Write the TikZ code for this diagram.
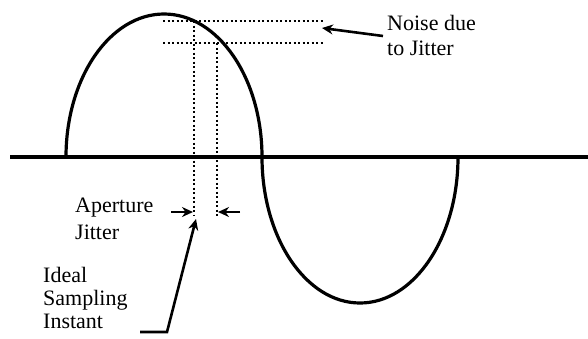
\documentclass[tikz,border=0pt]{standalone}
\usepackage{fontspec}
\setmainfont{Liberation Serif}
\usetikzlibrary{arrows.meta}
\begin{document}
\begin{tikzpicture}[x=1pt,y=-1pt,
  wave/.style={line width=3.2pt},
  axisline/.style={line width=4.5pt},
  dots/.style={line width=2.4pt, dash pattern=on 2.2pt off 2.3pt},
  ptr/.style={line width=2.6pt, -{Stealth[length=11pt,width=10pt]}},
  lbl/.style={align=left, inner sep=0pt, anchor=base west}]
\useasboundingbox (0,0) rectangle (588,338);
% axis and wave
\coordinate (axl) at (10,157);
\coordinate (axr) at (588,157);
\draw[axisline] (axl) -- (axr);
\coordinate (w0) at (66,157);
\draw[wave] (w0) arc[start angle=180, end angle=360, x radius=98, y radius=143]
  arc[start angle=180, end angle=0, x radius=98, y radius=146];
% dotted guide lines
\coordinate (h1s) at (163,21); \coordinate (h1e) at (323,21);
\coordinate (h2s) at (163,43); \coordinate (h2e) at (323,43);
\coordinate (v1t) at (194,21); \coordinate (v1b) at (194,216);
\coordinate (v2t) at (217,43); \coordinate (v2b) at (217,216);
\draw[dots] (h1s) -- (h1e);
\draw[dots] (h2s) -- (h2e);
\draw[dots] (v1t) -- (v1b);
\draw[dots] (v2t) -- (v2b);
% labels (base anchor = baseline of the last line)
\node[lbl, font=\fontsize{22}{25}\selectfont] (noise) at (387,55) {Noise due\\to Jitter};
\node[lbl, font=\fontsize{22}{27}\selectfont] (aper) at (75,239) {Aperture\\Jitter};
\node[lbl, font=\fontsize{22}{23}\selectfont] (ideal) at (43,328) {Ideal\\Sampling\\Instant};
% arrows
\coordinate (als) at (171,212); \coordinate (ale) at (193,212);
\coordinate (ars) at (240,212); \coordinate (are) at (218,212);
\draw[ptr] (als) -- (ale);
\draw[ptr] (ars) -- (are);
\coordinate (is0) at (140,332); \coordinate (is1) at (167,332); \coordinate (is2) at (196,219);
\draw[ptr] (is0) -- (is1) -- (is2);
\coordinate (ns0) at (383,36); \coordinate (ns1) at (322,28);
\draw[ptr] (ns0) -- (ns1);
\end{tikzpicture}
\end{document}
